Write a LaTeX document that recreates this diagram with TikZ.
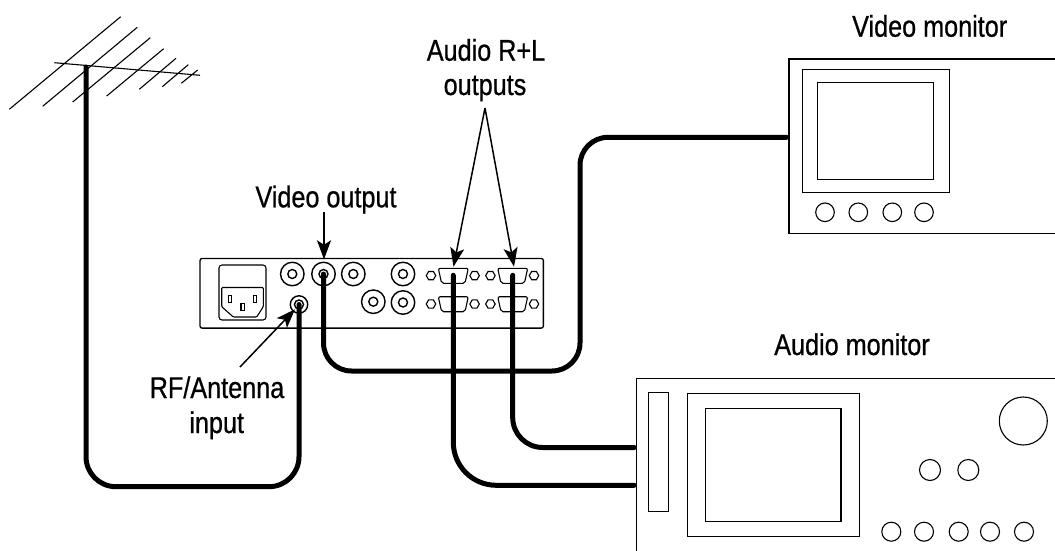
\documentclass[tikz,border=0pt]{standalone}
\usepackage{fontspec}
\setmainfont[FakeStretch=0.84,FakeBold=0.7]{Liberation Sans}
\usetikzlibrary{arrows.meta,shapes.geometric}
\tikzset{
  thinline/.style={line width=1.1pt,draw=black},
  cable/.style={line width=5pt,draw=black,line cap=round},
  pointer/.style={line width=1.5pt,draw=black,-{Stealth[length=19pt,width=14pt,inset=4.5pt]}},
  lbl/.style={font=\fontsize{30}{34}\selectfont,inner sep=0pt,text=black,anchor=base},
  ring/.style={circle,draw=black,line width=1.1pt,inner sep=0pt},
  jackouter/.style={ring,line width=1.4pt,minimum size=23.5pt},
  jackinner/.style={ring,line width=1.4pt,minimum size=9pt},
  nut/.style={regular polygon,regular polygon sides=6,draw=black,line width=1.1pt,inner sep=0pt,minimum size=9.5pt},
  knob/.style={ring,minimum size=19pt},
  bigknob/.style={ring,minimum size=21pt},
  box/.style={draw=black,line width=1.1pt,inner sep=0pt},
}
\begin{document}
\begin{tikzpicture}[x=1pt,y=-1pt]
\useasboundingbox (0,0) rectangle (1055,551);
% antenna
\draw[thinline] (54.3,62.7) -- (200,75.3);
\foreach \a/\b/\c/\d in {9.3/109.3/120.7/16.7,42.7/106.3/137.3/27.3,72.7/102/150.3/37.7,106.7/96/163.7/48.7,139.3/89.3/176/58.3,162.3/86.7/188.3/64.7,181.3/83.3/197.7/70}
  \draw[thinline] (\a,\b) -- (\c,\d);
\coordinate (ant) at (86,67);
% rear panel
\node[box,line width=1.3pt,rounded corners=2pt,minimum width=343.3pt,minimum height=69.6pt] (panel) at (371.7,293.3) {};
\node[box,rounded corners=3pt,minimum width=47pt,minimum height=55pt] (power) at (242.5,292.5) {};
\draw[thinline,rounded corners=1pt] (221.7,287.5) -- (263.3,287.5) -- (263.3,306.7) -- (256.7,317) -- (233.3,317) -- (221.7,306.7) -- cycle;
\node[box,minimum width=3.5pt,minimum height=7pt] (pina) at (230,299) {};
\node[box,minimum width=3.5pt,minimum height=7pt] (pinb) at (242.7,307) {};
\node[box,minimum width=3.5pt,minimum height=7pt] (pinc) at (255,299) {};
% jacks
\foreach \n/\x/\y in {ja/292.3/274,jb/323.5/274,jc/353.3/274,jd/403/274,je/373.3/301.7,jf/403/302.5}{
  \node[jackouter] (\n) at (\x,\y) {};
  \node[jackinner] (\n i) at (\x,\y) {};
}
\node[ring,line width=1.4pt,minimum size=17.4pt] (rf) at (299,304.5) {};
\node[ring,line width=1.4pt,minimum size=9pt] (rfi) at (299,304.5) {};
% D-sub connectors
\foreach \n/\x/\y in {da/453.3/268.3,db/512.7/268.3,dc/453.3/296.7,dd/512.7/296.7}{
  \coordinate (\n) at (\x,\y+7);
  \draw[thinline,rounded corners=2pt] (\x-15,\y) -- (\x+15,\y) -- (\x+11.7,\y+15) -- (\x-11.7,\y+15) -- cycle;
  \node[nut] (\n l) at (\x-22.3,\y+7.3) {};
  \node[nut] (\n r) at (\x+21.3,\y+7.3) {};
}
% video monitor
\draw[thinline] (1055,59) -- (789,59) -- (789,233.3) -- (1055,233.3);
\coordinate (vmin) at (789,137.3);
\node[box,minimum width=147.3pt,minimum height=123.4pt] (vframe) at (875.7,131) {};
\node[box,minimum width=116pt,minimum height=97pt] (vscreen) at (875.7,130.8) {};
\foreach \n/\x in {va/825,vb/858.3,vc/892.3,vd/924}
  \node[ring,minimum size=18.6pt] (\n) at (\x,212.3) {};
% audio monitor
\draw[thinline] (1055,378.3) -- (636.7,378.3) -- (636.7,551);
\coordinate (amina) at (636.7,447.5);
\coordinate (aminb) at (636.7,485.3);
\node[box,minimum width=20.4pt,minimum height=118.7pt] (strip) at (658.5,451.7) {};
\node[box,minimum width=171.7pt,minimum height=143pt] (aframe) at (773.2,464.8) {};
\node[box,minimum width=135.3pt,minimum height=113pt] (ascreen) at (773.3,465.2) {};
\node[ring,minimum size=48pt] (abig) at (1023.3,421) {};
\node[bigknob] (ama) at (930,470) {};
\node[bigknob] (amb) at (968.3,470) {};
\foreach \n/\x in {aa/891.3,ab/924,ac/958.7,ad/990,ae/1024}
  \node[knob] (\n) at (\x,531.7) {};
% cables
\draw[cable,rounded corners=30pt] (ant) -- (86,486.7) -- (299,486.7) -- (rf.center);
\draw[cable,rounded corners=28pt,shorten >=2.5pt] (jb.center) -- (323.5,371) -- (580,371) -- (580,137.3) -- (vmin);
\draw[cable,rounded corners=43pt,shorten >=2.5pt] (da) -- (453.3,485.3) -- (aminb);
\draw[cable,rounded corners=30pt,shorten >=2.5pt] (db) -- (512.7,447.5) -- (amina);
% labels
\node[lbl] (tvout) at (326,207.3) {Video output};
\node[lbl] (taudio) at (486,60.7) {Audio R+L};
\node[lbl] (taudiob) at (485,95) {outputs};
\node[lbl] (trf) at (217,398) {RF/Antenna};
\node[lbl] (trfb) at (216.7,433) {input};
\node[lbl] (tvm) at (929.7,36.7) {Video monitor};
\node[lbl] (tam) at (852,355) {Audio monitor};
% pointers
\coordinate (ap) at (485,108);
\coordinate (rfs) at (240,367);
\coordinate (vs) at (324,212);
\coordinate (vt) at (324,259.3);
\coordinate (at1) at (453.5,266.7);
\coordinate (at2) at (514,266.7);
\coordinate (rft) at (295,309.3);
\draw[pointer] (vs) -- (vt);
\draw[pointer] (ap) -- (at1);
\draw[pointer] (ap) -- (at2);
\draw[pointer] (rfs) -- (rft);
\end{tikzpicture}
\end{document}
